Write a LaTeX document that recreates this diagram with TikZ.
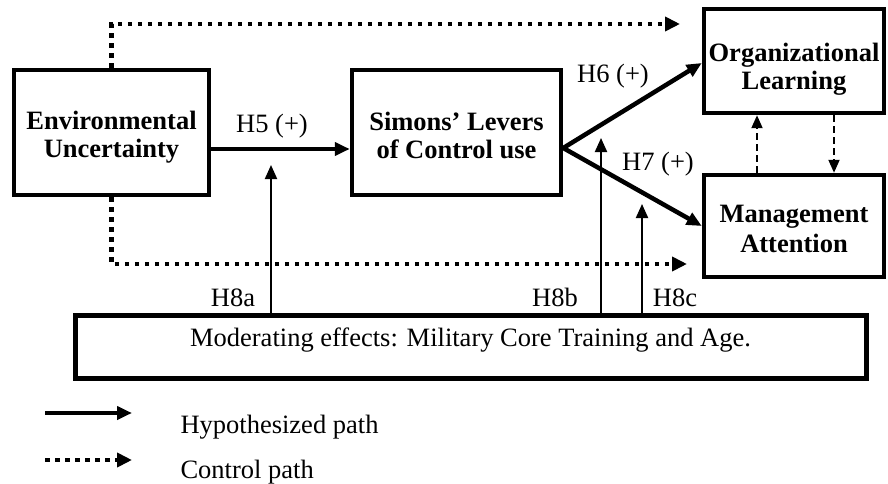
\documentclass[tikz,border=0pt]{standalone}
\usepackage{fontspec}
\setmainfont{Liberation Serif}
\usetikzlibrary{arrows.meta}
% struts that fix the vertical placement of the two-line box captions
\newcommand\capfirst[1]{\rule{0pt}{#1}}
\newcommand\caplast{\rule[-6pt]{0pt}{6pt}}
\begin{document}
\begin{tikzpicture}[x=1pt,y=-1pt,
  every node/.style={font=\fontsize{26.5}{28}\selectfont},
  box/.style={draw, line width=4.5pt, align=center, inner sep=0pt,
    font=\fontsize{26.5}{28}\selectfont\bfseries},
  modbox/.style={draw, line width=5pt, inner sep=0pt, text height=9pt, text depth=9pt},
  hyp/.style={line width=4.5pt, -{Triangle[length=15pt,width=13pt]}},
  ctl/.style={line width=4.5pt, dash pattern=on 4.5pt off 5.5pt,
    -{Triangle[length=15pt,width=14pt]}},
  modarrow/.style={line width=2pt, -{Triangle[length=14pt,width=12pt]}},
  fb/.style={line width=2pt, dash pattern=on 7pt off 4pt,
    -{Triangle[length=13pt,width=11pt]}},
  lbl/.style={anchor=base},
]
\useasboundingbox (0,0) rectangle (888,484);

% construct boxes
\node[box, minimum width=195pt, minimum height=125pt] (env) at (111.5,132.5)
  {\capfirst{28.6pt}Environmental\\Uncertainty\caplast};
\node[box, minimum width=209pt, minimum height=125pt] (sim) at (456.5,132.5)
  {\capfirst{30.6pt}Simons’ Levers\\of Control use\caplast};
\node[box, minimum width=180pt, minimum height=104pt] (org) at (794,61)
  {\capfirst{35pt}Organizational\\Learning\caplast};
\node[box, minimum width=180pt, minimum height=102pt,
  font=\fontsize{26.5}{30}\selectfont\bfseries] (mgmt) at (794,226)
  {\capfirst{29.6pt}Management\\Attention\caplast};
\node[modbox, minimum width=791pt, minimum height=63pt] (mod) at (470.5,346.5)
  {Moderating effects: Military Core Training and Age.};

% hypothesized paths
\draw[hyp] ([yshift=-16.5pt]env.east) -- ([yshift=-16.5pt]sim.west);
\draw[hyp] ([yshift=-15.5pt]sim.east) -- ([yshift=-2pt]org.west);
\draw[hyp] ([yshift=-15.5pt]sim.east) -- (mgmt.west);

% control paths
\coordinate (ctlA) at (680,24);
\coordinate (ctlB) at (687,264);
\draw[ctl] (env.north) |- (ctlA);
\draw[ctl] (env.south) |- (ctlB);

% feedback between outcomes
\coordinate (fbu) at (757,0);
\coordinate (fbd) at (834,0);
\draw[fb] (mgmt.north -| fbu) -- (org.south -| fbu);
\draw[fb] (org.south -| fbd) -- (mgmt.north -| fbd);

% moderating effects
\coordinate (h8a) at (271,165);
\coordinate (h8b) at (601,138);
\coordinate (h8c) at (642,204);
\draw[modarrow] (mod.north -| h8a) -- (h8a);
\draw[modarrow] (mod.north -| h8b) -- (h8b);
\draw[modarrow] (mod.north -| h8c) -- (h8c);

% path labels
\node[lbl] (l5) at (272,132) {H5 (+)};
\node[lbl] (l6) at (613,83) {H6 (+)};
\node[lbl] (l7) at (658,170) {H7 (+)};
\node[lbl] (l8a) at (233,306) {H8a};
\node[lbl] (l8b) at (555,306) {H8b};
\node[lbl] (l8c) at (675,306) {H8c};

% legend
\coordinate (lg1a) at (45,413);
\coordinate (lg1b) at (132,413);
\coordinate (lg2a) at (45,460);
\coordinate (lg2b) at (132,460);
\draw[hyp] (lg1a) -- (lg1b);
\draw[ctl] (lg2a) -- (lg2b);
\node[anchor=base west] (lgt1) at (177,433) {Hypothesized path};
\node[anchor=base west] (lgt2) at (177,478) {Control path};
\end{tikzpicture}
\end{document}
